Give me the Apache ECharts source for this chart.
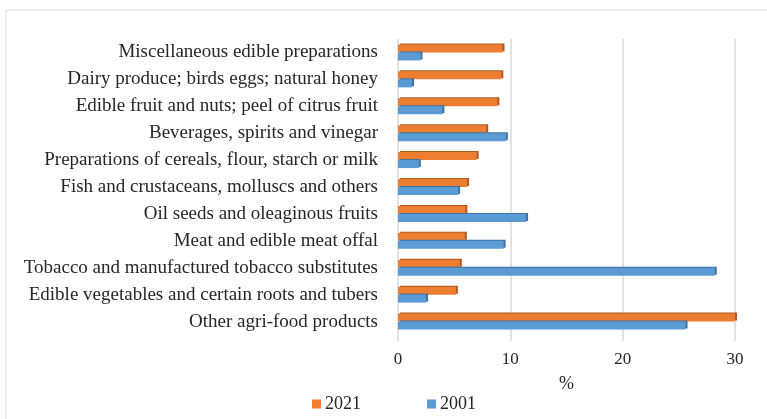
<!DOCTYPE html>
<html>
<head>
<meta charset="utf-8">
<script src="https://cdn.jsdelivr.net/npm/echarts@6/dist/echarts.min.js"></script>
<style>
  html, body { margin: 0; padding: 0; background: #fff; }
  #chart { width: 767px; height: 419px; }
</style>
</head>
<body>
<div id="chart"></div>
<script>
// Product groups, listed top to bottom
const categories = [
  'Miscellaneous edible preparations',
  'Dairy produce; birds eggs; natural honey',
  'Edible fruit and nuts; peel of citrus fruit',
  'Beverages, spirits and vinegar',
  'Preparations of cereals, flour, starch or milk',
  'Fish and crustaceans, molluscs and others',
  'Oil seeds and oleaginous fruits',
  'Meat and edible meat offal',
  'Tobacco and manufactured tobacco substitutes',
  'Edible vegetables and certain roots and tubers',
  'Other agri-food products'
];

// Share of each group, %
const values2021 = [9.3, 9.2, 8.85, 7.85, 7.0, 6.15, 6.0, 5.95, 5.5, 5.15, 30.0];
const values2001 = [2.0, 1.25, 3.95, 9.6, 1.85, 5.35, 11.4, 9.4, 28.2, 2.5, 25.6];

const seriesNames = ['2021', '2001'];
const xTicks = [0, 10, 20, 30];

const FONT = '"Liberation Serif", "Times New Roman", serif';
const TEXT = '#262626';

const chart = echarts.init(document.getElementById('chart'), null, { renderer: 'canvas' });

function barSeries(name, data, color, edge) {
  return {
    name: name,
    type: 'bar',
    data: data,
    barWidth: 8,
    barGap: '0%',
    itemStyle: {
      color: color,
      shadowColor: edge,
      shadowBlur: 0,
      shadowOffsetX: 2,
      shadowOffsetY: -1
    }
  };
}

chart.setOption({
  animation: false,
  backgroundColor: '#fff',
  textStyle: { fontFamily: FONT },
  graphic: [{
    type: 'rect',
    shape: { x: 6, y: 10, width: 800, height: 460 },
    style: { fill: 'none', stroke: '#d9d9d9', lineWidth: 1 },
    silent: true,
    z: -1
  }],
  legend: {
    data: seriesNames,
    bottom: 1,
    left: 307,
    itemWidth: 9,
    itemHeight: 9,
    itemGap: 66,
    icon: 'rect',
    textStyle: { fontFamily: FONT, fontSize: 18, color: TEXT, padding: [0, 0, 0, -1] }
  },
  grid: {
    left: 398,
    right: 32,
    top: 39,
    bottom: 84,
    containLabel: false
  },
  xAxis: {
    type: 'value',
    min: xTicks[0],
    max: xTicks[xTicks.length - 1],
    interval: 10,
    name: '%',
    nameLocation: 'middle',
    nameGap: 40,
    nameTextStyle: { fontFamily: FONT, fontSize: 18, color: TEXT },
    axisLine: { show: false },
    axisTick: { show: true, length: 6, lineStyle: { color: '#d9d9d9', width: 1.5 } },
    axisLabel: { fontFamily: FONT, fontSize: 17, color: TEXT, margin: 16 },
    splitLine: { show: true, lineStyle: { color: '#d9d9d9', width: 1.5 } }
  },
  yAxis: {
    type: 'category',
    data: categories,
    inverse: true,
    axisLine: { show: false },
    axisTick: { show: false },
    axisLabel: { fontFamily: FONT, fontSize: 19, color: TEXT, margin: 20 }
  },
  series: [
    barSeries(seriesNames[0], values2021, '#ED7D31', '#B05B22'),
    barSeries(seriesNames[1], values2001, '#5B9BD5', '#41729E')
  ]
});
</script>
</body>
</html>
